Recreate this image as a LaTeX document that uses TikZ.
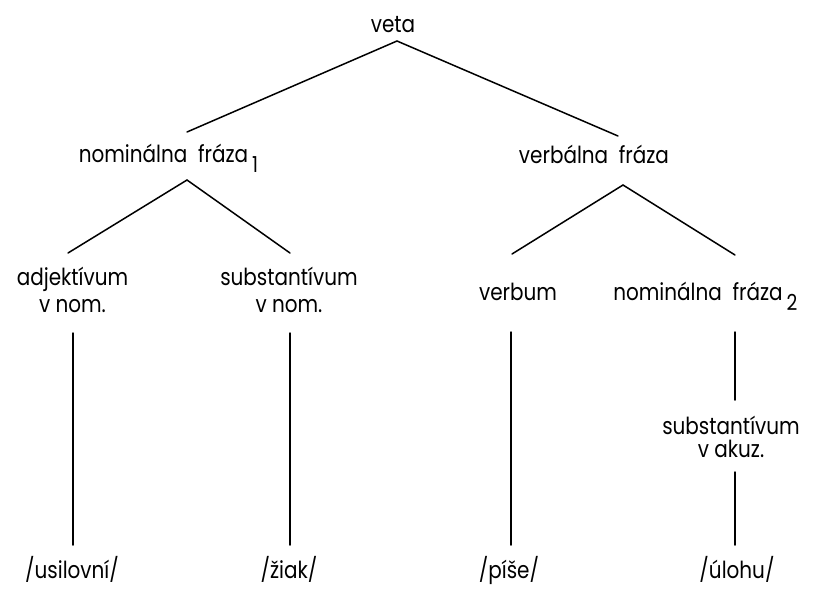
\documentclass[tikz,border=0pt]{standalone}
\usepackage{fontspec}
\setmainfont{Poppins}[FakeStretch=0.85]
\begin{document}
\begin{tikzpicture}[x=1pt,y=-1pt,
  lbl/.style={inner sep=0pt,anchor=base,font=\fontsize{23.5}{27}\selectfont,align=center},
  tight/.style={font=\fontsize{23.5}{23}\selectfont},
  edge/.style={line width=1.5pt,line cap=round}]
\useasboundingbox (0,0) rectangle (825,590);
\newcommand{\subidx}[1]{\rlap{\,\raisebox{-10pt}{\fontsize{22}{22}\selectfont #1}}}
\node[lbl] (veta) at (393,32) {veta};
\node[lbl] (nf1) at (163.5,162) {nominálna\ \ fráza\subidx{1}};
\node[lbl] (vf) at (594,163) {verbálna\ \ fráza};
\node[lbl] (adj) at (72.5,312) {adjektívum\\v nom.};
\node[lbl] (subn) at (289,312) {substantívum\\v nom.};
\node[lbl] (verb) at (518,300) {verbum};
\node[lbl] (nf2) at (698,300) {nominálna\ \ fráza\subidx{2}};
\node[lbl,tight] (suba) at (731,457) {substantívum\\v akuz.};
\node[lbl] (w1) at (72,578) {/usilovní/};
\node[lbl] (w2) at (289,578) {/žiak/};
\node[lbl] (w3) at (509,578) {/píše/};
\node[lbl] (w4) at (737,578) {/úlohu/};
% connectors
\draw[edge] ([xshift=4pt,yshift=-9pt]veta.base) -- ([xshift=23.5pt,yshift=30pt]nf1.base);
\draw[edge] ([xshift=4pt,yshift=-9pt]veta.base) -- ([xshift=24pt,yshift=27pt]vf.base);
\draw[edge] ([xshift=23.5pt,yshift=-18pt]nf1.base) -- ([xshift=-4.5pt,yshift=59pt]adj.base);
\draw[edge] ([xshift=23.5pt,yshift=-18pt]nf1.base) -- ([xshift=1pt,yshift=59pt]subn.base);
\draw[edge] ([xshift=29pt,yshift=-22pt]vf.base) -- ([xshift=-6pt,yshift=46pt]verb.base);
\draw[edge] ([xshift=29pt,yshift=-22pt]vf.base) -- ([xshift=37pt,yshift=45pt]nf2.base);
\draw[edge] ([xshift=0.5pt,yshift=-21pt]adj.base) -- ([xshift=1pt,yshift=33pt]w1.base);
\draw[edge] ([xshift=1pt,yshift=-21pt]subn.base) -- ([xshift=1pt,yshift=33pt]w2.base);
\draw[edge] ([xshift=-7pt,yshift=-32pt]verb.base) -- ([xshift=2pt,yshift=33pt]w3.base);
\draw[edge] ([xshift=37pt,yshift=-32pt]nf2.base) -- ([xshift=4pt,yshift=57pt]suba.base);
\draw[edge] ([xshift=4pt,yshift=-15pt]suba.base) -- ([xshift=-2pt,yshift=33pt]w4.base);
\end{tikzpicture}
\end{document}
